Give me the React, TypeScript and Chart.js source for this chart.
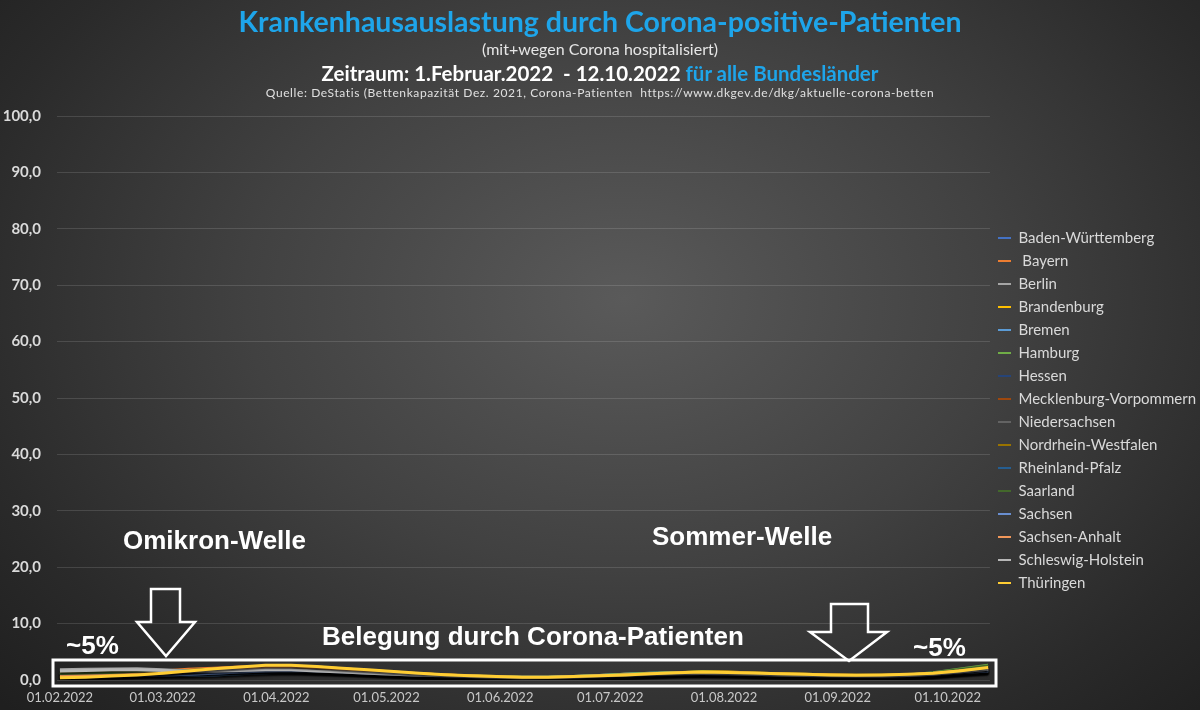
import React, { useEffect, useRef } from "react";
import { Chart, registerables } from "chart.js";

Chart.register(...registerables);

// ---- Data ----
const sampleDates = [
  "01.02.2022", "08.02.2022", "15.02.2022", "22.02.2022", "01.03.2022", "08.03.2022",
  "15.03.2022", "22.03.2022", "29.03.2022", "05.04.2022", "12.04.2022", "19.04.2022",
  "26.04.2022", "03.05.2022", "10.05.2022", "17.05.2022", "24.05.2022", "31.05.2022",
  "07.06.2022", "14.06.2022", "21.06.2022", "28.06.2022", "05.07.2022", "12.07.2022",
  "19.07.2022", "26.07.2022", "02.08.2022", "09.08.2022", "16.08.2022", "23.08.2022",
  "30.08.2022", "06.09.2022", "13.09.2022", "20.09.2022", "27.09.2022", "04.10.2022",
  "12.10.2022",
];

const monthTickLabels = [
  "01.02.2022", "01.03.2022", "01.04.2022", "01.05.2022", "01.06.2022",
  "01.07.2022", "01.08.2022", "01.09.2022", "01.10.2022",
];

const yTickValues = [0, 10, 20, 30, 40, 50, 60, 70, 80, 90, 100];

const stateNames = [
  "Baden-Württemberg", " Bayern", "Berlin", "Brandenburg", "Bremen", "Hamburg",
  "Hessen", "Mecklenburg-Vorpommern", "Niedersachsen", "Nordrhein-Westfalen",
  "Rheinland-Pfalz", "Saarland", "Sachsen", "Sachsen-Anhalt", "Schleswig-Holstein",
  "Thüringen",
];

const stateColors = [
  "#4472C4", "#ED7D31", "#A5A5A5", "#FFC000", "#5B9BD5", "#70AD47",
  "#264478", "#9E480E", "#636363", "#997300", "#255E91", "#43682B",
  "#698ED0", "#F1975A", "#B7B7B7", "#FFCD33",
];

const badenWuerttemberg = [1.0,1.1,1.2,1.3,1.4,1.6,1.8,1.9,2.0,1.9,1.7,1.5,1.3,1.1,0.9,0.8,0.6,0.5,0.4,0.4,0.5,0.7,0.8,1.0,1.1,1.2,1.1,1.0,0.9,0.8,0.7,0.7,0.7,0.8,1.0,1.4,1.8];
const bayern = [1.1,1.2,1.3,1.4,1.6,1.9,2.1,2.3,2.4,2.3,2.1,1.8,1.5,1.3,1.1,0.9,0.7,0.6,0.5,0.5,0.6,0.8,1.0,1.1,1.3,1.3,1.2,1.1,1.0,0.9,0.8,0.8,0.8,0.9,1.2,1.7,2.2];
const berlin = [1.8,1.9,1.95,2.0,1.8,1.6,1.6,1.7,1.8,1.8,1.7,1.5,1.3,1.1,0.9,0.8,0.7,0.55,0.45,0.45,0.55,0.7,0.85,1.0,1.1,1.15,1.1,1.0,0.9,0.85,0.75,0.7,0.7,0.8,0.95,1.2,1.5];
const brandenburg = [0.4,0.5,0.6,0.8,1.1,1.4,1.8,2.1,2.4,2.5,2.3,2.0,1.7,1.4,1.1,0.9,0.7,0.55,0.45,0.45,0.55,0.7,0.9,1.1,1.3,1.45,1.4,1.25,1.1,1.0,0.9,0.85,0.85,0.9,1.1,1.5,1.9];
const bremen = [1.2,1.2,1.1,1.0,0.8,0.8,0.9,1.1,1.3,1.4,1.3,1.2,1.1,0.9,0.8,0.7,0.6,0.5,0.5,0.5,0.6,0.8,1.0,1.2,1.3,1.3,1.2,1.0,0.9,0.8,0.7,0.6,0.6,0.7,0.9,1.3,1.6];
const hamburg = [1.3,1.3,1.3,1.2,1.2,1.3,1.4,1.5,1.6,1.6,1.5,1.4,1.2,1.0,0.9,0.8,0.7,0.6,0.5,0.5,0.6,0.8,1.0,1.2,1.3,1.4,1.3,1.2,1.0,0.9,0.8,0.8,0.8,0.9,1.3,1.9,2.6];
const hessen = [0.9,1.0,1.1,1.2,1.3,1.4,1.5,1.7,1.8,1.8,1.6,1.4,1.2,1.0,0.9,0.7,0.6,0.5,0.4,0.4,0.5,0.6,0.7,0.9,1.0,1.05,1.0,0.9,0.8,0.7,0.65,0.6,0.6,0.7,0.9,1.2,1.5];
const mecklenburgVorpommern = [0.7,0.9,1.0,1.2,1.4,1.6,1.8,2.0,2.2,2.2,2.0,1.8,1.5,1.2,1.0,0.8,0.6,0.5,0.4,0.4,0.5,0.6,0.8,1.0,1.2,1.3,1.3,1.2,1.0,0.9,0.8,0.75,0.75,0.85,1.1,1.5,2.0];
const niedersachsen = [1.0,1.1,1.2,1.3,1.4,1.5,1.6,1.8,1.9,1.9,1.7,1.5,1.3,1.1,0.9,0.8,0.65,0.5,0.4,0.4,0.5,0.7,0.8,0.95,1.1,1.1,1.05,0.95,0.85,0.75,0.7,0.65,0.65,0.75,0.95,1.3,1.7];
const nordrheinWestfalen = [1.1,1.2,1.2,1.3,1.3,1.4,1.5,1.6,1.7,1.7,1.6,1.4,1.2,1.0,0.85,0.7,0.6,0.5,0.4,0.4,0.5,0.6,0.75,0.9,1.0,1.1,1.0,0.9,0.8,0.75,0.7,0.65,0.65,0.75,0.9,1.2,1.6];
const rheinlandPfalz = [0.9,1.0,1.1,1.2,1.3,1.5,1.7,1.8,1.9,1.9,1.7,1.5,1.3,1.1,0.9,0.75,0.6,0.5,0.4,0.4,0.5,0.6,0.8,0.95,1.05,1.1,1.05,0.95,0.85,0.8,0.7,0.65,0.65,0.75,0.95,1.3,1.7];
const saarland = [1.0,1.1,1.2,1.3,1.5,1.7,1.9,2.0,2.1,2.0,1.8,1.6,1.4,1.2,1.0,0.85,0.7,0.55,0.45,0.45,0.55,0.7,0.85,1.0,1.1,1.2,1.15,1.05,0.9,0.8,0.75,0.7,0.75,0.85,1.2,1.8,2.5];
const sachsen = [0.5,0.6,0.7,0.8,0.9,1.0,1.2,1.4,1.6,1.7,1.6,1.4,1.2,1.0,0.8,0.7,0.55,0.45,0.35,0.35,0.45,0.55,0.7,0.85,1.0,1.1,1.05,0.95,0.85,0.75,0.7,0.65,0.65,0.75,0.95,1.3,1.6];
const sachsenAnhalt = [0.6,0.7,0.8,1.0,1.2,1.5,1.8,2.1,2.3,2.4,2.2,1.9,1.6,1.3,1.0,0.85,0.7,0.55,0.45,0.45,0.55,0.7,0.9,1.05,1.2,1.3,1.25,1.15,1.0,0.9,0.85,0.8,0.8,0.9,1.15,1.6,2.1];
const schleswigHolstein = [1.6,1.7,1.8,1.8,1.7,1.6,1.6,1.7,1.8,1.8,1.6,1.4,1.2,1.0,0.85,0.75,0.6,0.5,0.4,0.45,0.55,0.7,0.85,1.0,1.1,1.15,1.1,1.0,0.9,0.8,0.75,0.7,0.7,0.8,1.0,1.4,1.9];
const thueringen = [0.4,0.5,0.7,0.9,1.2,1.6,2.0,2.3,2.6,2.6,2.4,2.1,1.8,1.5,1.2,0.95,0.75,0.6,0.5,0.5,0.6,0.75,0.9,1.1,1.3,1.4,1.35,1.25,1.1,1.0,0.9,0.85,0.9,1.0,1.2,1.6,2.2];

const stateSeries = [
  badenWuerttemberg, bayern, berlin, brandenburg, bremen, hamburg, hessen,
  mecklenburgVorpommern, niedersachsen, nordrheinWestfalen, rheinlandPfalz,
  saarland, sachsen, sachsenAnhalt, schleswigHolstein, thueringen,
];

const START = Date.UTC(2022, 1, 1);
function dayIndex(d: string): number {
  const [dd, mm, yy] = d.split(".").map(Number);
  return Math.round((Date.UTC(yy, mm - 1, dd) - START) / 86400000);
}

const shadowPlugin = {
  id: "lineShadow",
  beforeDatasetsDraw(chart: any) {
    const ctx = chart.ctx;
    ctx.save();
    ctx.shadowColor = "rgba(0,0,0,0.75)";
    ctx.shadowBlur = 2;
    ctx.shadowOffsetY = 2;
  },
  afterDatasetsDraw(chart: any) {
    chart.ctx.restore();
  },
};

const CALIBRI = "Lato, 'Open Sans', sans-serif";
const ARIAL = "'Liberation Sans', Arial, sans-serif";

export default function App() {
  const canvasRef = useRef<HTMLCanvasElement | null>(null);

  useEffect(() => {
    const canvas = canvasRef.current;
    if (!canvas) return;
    const n = stateNames.length;
    const datasets = stateNames.map((name, i) => ({
      label: name,
      data: sampleDates.map((d, j) => ({ x: dayIndex(d), y: stateSeries[i][j] })),
      borderColor: stateColors[i],
      backgroundColor: stateColors[i],
      borderWidth: 3,
      pointRadius: 0,
      tension: 0,
      fill: false,
      order: n - i,
    }));

    const chart = new Chart(canvas, {
      type: "line",
      data: { datasets },
      plugins: [shadowPlugin],
      options: {
        animation: false,
        responsive: false,
        layout: { padding: { top: 116, right: -6, bottom: 5, left: 0 } },
        scales: {
          x: {
            type: "linear",
            min: -0.8,
            max: 253.5,
            afterBuildTicks: (s: any) => {
              s.ticks = monthTickLabels.map((d) => ({ value: dayIndex(d) }));
            },
            afterFit: (s: any) => {
              s.height = 25;
            },
            ticks: {
              autoSkip: false,
              maxRotation: 0,
              padding: 10,
              color: "#c8c8c8",
              font: { family: CALIBRI, size: 13 },
              callback: (v: any) => monthTickLabels.find((d) => dayIndex(d) === v) ?? "",
            },
            grid: { display: false, drawTicks: false },
            border: { display: false },
          },
          y: {
            min: 0,
            max: 100,
            afterBuildTicks: (s: any) => {
              s.ticks = yTickValues.map((v) => ({ value: v }));
            },
            afterFit: (s: any) => {
              s.width = 57;
            },
            ticks: {
              padding: 16,
              color: "#dadada",
              font: { family: CALIBRI, size: 15, weight: "bold" },
              callback: (v: any) => Number(v).toFixed(1).replace(".", ","),
            },
            grid: { color: "rgba(255,255,255,0.13)", drawTicks: false, lineWidth: 1 },
            border: { display: false },
          },
        },
        plugins: {
          title: { display: false },
          tooltip: { enabled: false },
          legend: {
            position: "right",
            align: "center",
            labels: {
              color: "#d9d9d9",
              font: { family: CALIBRI, size: 15 },
              boxWidth: 13,
              boxHeight: 2,
              padding: 8,
              sort: (a: any, b: any) => a.datasetIndex - b.datasetIndex,
              generateLabels: (c: any) =>
                (Chart.defaults.plugins.legend.labels as any)
                  .generateLabels(c)
                  .map((l: any) => ({ ...l, fillStyle: l.strokeStyle, lineWidth: 0 })),
            },
          },
        },
      } as any,
    });
    return () => chart.destroy();
  }, []);

  const abs = (extra: React.CSSProperties): React.CSSProperties => ({
    position: "absolute",
    whiteSpace: "nowrap",
    ...extra,
  });

  return (
    <div
      style={{
        position: "fixed",
        left: 0,
        top: 0,
        width: 1200,
        height: 710,
        overflow: "hidden",
        background:
          "radial-gradient(ellipse 70% 85% at 52% 42%, #5a5a5a 0%, #414141 45%, #2a2a2a 80%, #1f1f1f 100%)",
      }}
    >
      <canvas ref={canvasRef} width={1200} height={710} style={{ position: "absolute", left: 0, top: 0 }} />

      {/* Titles */}
      <div style={abs({ left: 0, width: 1200, top: 4, textAlign: "center", fontFamily: CALIBRI, fontWeight: 700, fontSize: 28.5, lineHeight: "34px", color: "#1ea5ea" })}>
        Krankenhausauslastung durch Corona-positive-Patienten
      </div>
      <div style={abs({ left: 0, width: 1200, top: 39, textAlign: "center", fontFamily: CALIBRI, fontSize: 16, lineHeight: "20px", color: "#e6e6e6" })}>
        (mit+wegen Corona hospitalisiert)
      </div>
      <div style={abs({ left: 0, width: 1200, top: 60, textAlign: "center", fontFamily: CALIBRI, fontWeight: 700, fontSize: 20.5, lineHeight: "26px", color: "#ffffff" })}>
        Zeitraum: 1.Februar.2022&nbsp; - 12.10.2022 <span style={{ color: "#1ea5ea" }}>für alle Bundesländer</span>
      </div>
      <div style={abs({ left: 0, width: 1200, top: 85, textAlign: "center", fontFamily: CALIBRI, fontSize: 12, lineHeight: "16px", letterSpacing: "0.6px", color: "#e0e0e0" })}>
        Quelle: DeStatis (Bettenkapazität Dez. 2021, Corona-Patienten&nbsp; https://www.dkgev.de/dkg/aktuelle-corona-betten
      </div>

      {/* Annotations */}
      <div style={abs({ left: 123, top: 527, fontFamily: ARIAL, fontWeight: 700, fontSize: 26, lineHeight: "26px", color: "#ffffff" })}>
        Omikron-Welle
      </div>
      <div style={abs({ left: 652, top: 523, fontFamily: ARIAL, fontWeight: 700, fontSize: 26, lineHeight: "26px", color: "#ffffff" })}>
        Sommer-Welle
      </div>
      <div style={abs({ left: 322, top: 623, fontFamily: ARIAL, fontWeight: 700, fontSize: 26, lineHeight: "26px", color: "#ffffff" })}>
        Belegung durch Corona-Patienten
      </div>
      <div style={abs({ left: 66, top: 632, fontFamily: ARIAL, fontWeight: 700, fontSize: 26, lineHeight: "26px", color: "#ffffff" })}>
        ~5%
      </div>
      <div style={abs({ left: 913, top: 634, fontFamily: ARIAL, fontWeight: 700, fontSize: 26, lineHeight: "26px", color: "#ffffff" })}>
        ~5%
      </div>

      <svg width={1200} height={710} style={{ position: "absolute", left: 0, top: 0, pointerEvents: "none" }}>
        <polygon
          points="151,589 180,589 180,622 195,622 166,656 137,622 151,622"
          fill="none"
          stroke="#ffffff"
          strokeWidth={2.5}
          strokeLinejoin="miter"
        />
        <polygon
          points="831,604 868,604 868,632 887,632 849,661 810,632 831,632"
          fill="none"
          stroke="#ffffff"
          strokeWidth={2.5}
          strokeLinejoin="miter"
        />
        <rect x={53} y={660} width={943} height={26} fill="none" stroke="#ffffff" strokeWidth={3} />
      </svg>
    </div>
  );
}
